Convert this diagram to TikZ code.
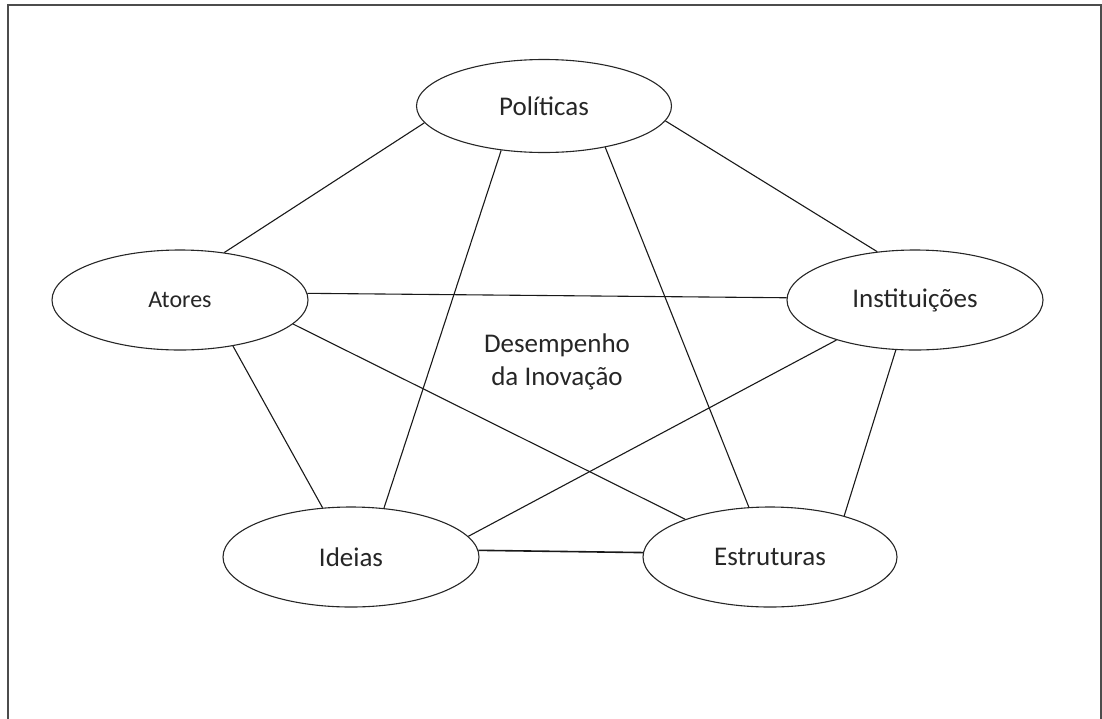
\documentclass[tikz,border=0pt]{standalone}
\usepackage{fontspec}
\setmainfont{Carlito}
\usetikzlibrary{shapes.geometric}
\begin{document}
\begin{tikzpicture}[x=1pt,y=-1pt,
  concept/.style={ellipse,draw=black!85,line width=1.1pt,inner sep=0pt,
    minimum width=256pt,minimum height=100pt,text=black!85,
    font=\fontsize{27}{33}\selectfont},
  link/.style={draw=black!90,line width=1.1pt},
  frameline/.style={draw=black!70,line width=2pt}]
\useasboundingbox (0,0) rectangle (1102,718);
\draw[frameline] (8,740) -- (8,5) -- (1101,5) -- (1101,740);
\node[concept,minimum width=255pt,minimum height=93pt] (pol) at (544,106) {Políticas};
\node[concept,font=\fontsize{24}{30}\selectfont] (ato) at (180,300) {Atores};
\node[concept] (ins) at (915,300) {Instituições};
\node[concept] (ide) at (351,557) {Ideias};
\node[concept,minimum width=254pt] (est) at (770,557) {Estruturas};
\node[align=center,text=black!85,font=\fontsize{27}{33}\selectfont] (des) at (557,362) {Desempenho\\da Inovação};
\draw[link] (pol.188) -- (ato.47);
\draw[link] (pol.226) -- (ide.56);
\draw[link] (pol.326) -- (est.113);
\draw[link] (pol.353) -- (ins.128);
\draw[link] (ato.3) -- (ins.179);
\draw[link] (ato.-12) -- (est.156);
\draw[link] (ato.-41) -- (ide.120);
\draw[link] (ins.207) -- (ide.10);
\draw[link] (ins.249) -- (est.29);
\draw[link,line width=1.6pt] (ide.3) -- (est.178);
\end{tikzpicture}
\end{document}
